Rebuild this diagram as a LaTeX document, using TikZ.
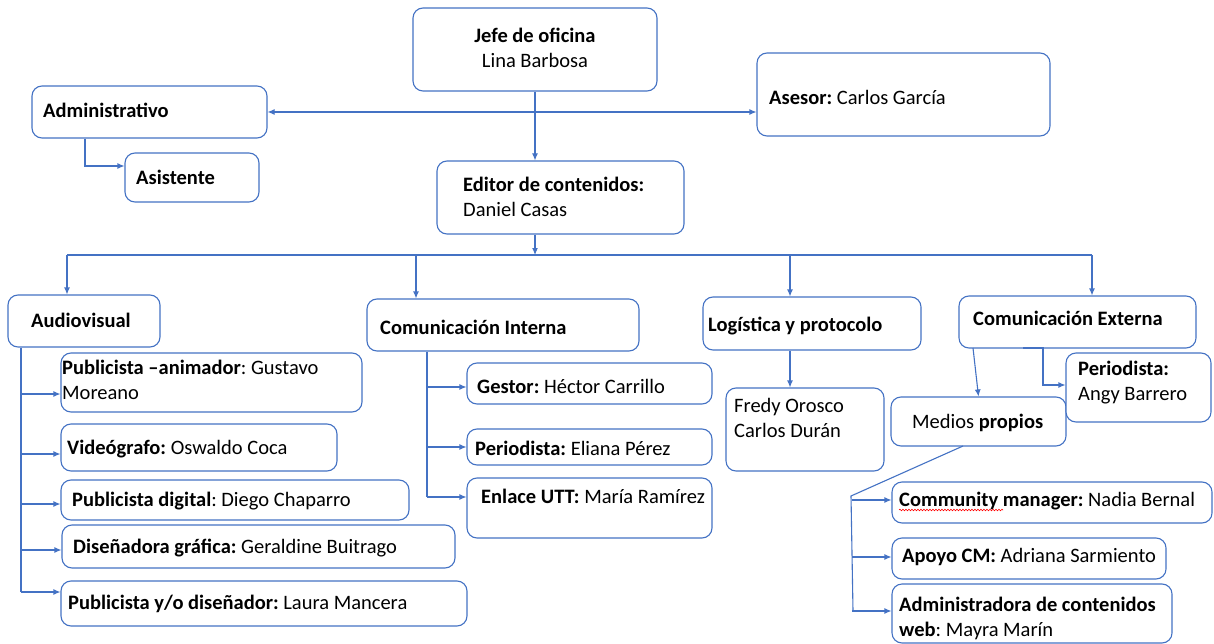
\documentclass[tikz,border=0pt]{standalone}
\usepackage{fontspec}
\setmainfont{Carlito}
\usetikzlibrary{arrows.meta,fit,decorations.pathmorphing}
\definecolor{ob}{HTML}{4472C4}
\begin{document}
\begin{tikzpicture}[x=1pt,y=-1pt,
 box/.style={draw=ob, line width=1.1pt, rounded corners=10pt, inner sep=0pt, fill=white},
 txt/.style={inner sep=0pt, anchor=base west, font=\fontsize{20.5}{25}\selectfont\frenchspacing, text=black, align=left},
 ln/.style={draw=ob, line width=1.1pt},
 arr/.style={ln, -{Latex[length=7pt,width=6pt]}},
]
\useasboundingbox[fill=white] (0,0) rectangle (1214,644);

% boxes
\node[box, fit={(413,8) (657,91)}] (jefe) {};
\node[box, fit={(437,161) (684,234)}] (editor) {};
\node[box, fit={(32,86) (267,138)}] (admin) {};
\node[box, fit={(125,153) (259,202)}] (asis) {};
\node[box, fit={(757,53) (1050,136)}] (asesor) {};
\node[box, fit={(8,295) (160,347)}] (audio) {};
\node[box, fit={(367,299) (639,351)}] (ci) {};
\node[box, fit={(703,297) (921,350)}] (log) {};
\node[box, fit={(959,296) (1196,348)}] (ce) {};
\node[box, fit={(61,353) (362,412)}] (pa) {};
\node[box, fit={(61,424) (337,471)}] (vid) {};
\node[box, fit={(61,480) (409,520)}] (pd) {};
\node[box, fit={(62,525) (455,568)}] (dg) {};
\node[box, fit={(61,581) (467,626)}] (pyd) {};
\node[box, fit={(467,363) (712,404)}] (gest) {};
\node[box, fit={(467,429) (712,465)}] (peri) {};
\node[box, fit={(467,478) (712,538)}] (enl) {};
\node[box, fit={(726,388) (884,471)}] (fredy) {};
\node[box, fit={(891,397) (1066,446)}] (mp) {};
\node[box, fit={(1066,353) (1211,422)}] (pang) {};
\node[box, fit={(892,482) (1212,523)}] (cm) {};
\node[box, fit={(892,538) (1166,579)}] (apoyo) {};
\node[box, fit={(892,584) (1172,643)}] (adm) {};

% texts
\node[txt, align=center, anchor=base] (jefe-t) at (535,68) {\textbf{Jefe de oficina}\\Lina Barbosa};
\node[txt] (editor-t) at (463,217) {\textbf{Editor de contenidos:}\\Daniel Casas};
\node[txt] (admin-t) at (43,118) {\textbf{Administrativo}};
\node[txt] (asis-t) at (136,185) {\textbf{Asistente}};
\node[txt] (asesor-t) at (769,105) {\textbf{Asesor:} Carlos García};
\node[txt] (audio-t) at (31,327) {\textbf{Audiovisual}};
\node[txt] (ci-t) at (380,334) {\textbf{Comunicación Interna}};
\node[txt] (log-t) at (708,331) {\textbf{Logística y protocolo}};
\node[txt] (ce-t) at (973,325) {\textbf{Comunicación Externa}};
\node[txt] (pa-t) at (62,399) {\textbf{Publicista –animador}: Gustavo\\Moreano};
\node[txt] (vid-t) at (67,454) {\textbf{Videógrafo:} Oswaldo Coca};
\node[txt] (pd-t) at (72,506) {\textbf{Publicista digital}: Diego Chaparro};
\node[txt] (dg-t) at (73,553) {\textbf{Diseñadora gráfica:} Geraldine Buitrago};
\node[txt] (pyd-t) at (68,609) {\textbf{Publicista y/o diseñador:} Laura Mancera};
\node[txt] (gest-t) at (477,393) {\textbf{Gestor:} Héctor Carrillo};
\node[txt] (peri-t) at (475,455) {\textbf{Periodista:} Eliana Pérez};
\node[txt] (enl-t) at (481,503) {\textbf{Enlace UTT:} María Ramírez};
\node[txt] (fredy-t) at (734,437) {Fredy Orosco\\Carlos Durán};
\node[txt] (mp-t) at (912,428) {Medios \textbf{propios}};
\node[txt] (pang-t) at (1078,400) {\textbf{Periodista:}\\Angy Barrero};
\node[txt] (cm-t) at (899,506) {\textbf{Community manager:} Nadia Bernal};
\node[txt] (apoyo-t) at (902,562) {\textbf{Apoyo CM:} Adriana Sarmiento};
\node[txt] (adm-t) at (899,636) {\textbf{Administradora de contenidos}\\\textbf{web}: Mayra Marín};
\draw[red, line width=0.6pt, decorate, decoration={snake, amplitude=0.8pt, segment length=3pt}] (899,510) -- (1003,510);

% top connectors
\coordinate (jx) at (535,0);
\draw[arr] (jefe.south -| jx) -- (editor.north -| jx);
\draw[ln, {Latex[length=7pt,width=6pt]}-{Latex[length=7pt,width=6pt]}] (admin.east) -- (admin.east -| asesor.west);
\coordinate (as1) at (85,166);
\draw[arr] (admin.south -| as1) -- (as1) -- (as1 -| asis.west);

% bus
\coordinate (busL) at (67,255);
\coordinate (busR) at (1092,255);
\coordinate (edb) at (535,255);
\draw[ln] (busL) -- (busR);
\draw[arr] (editor.south -| edb) -- (edb);
\coordinate (d2) at (416,255);
\coordinate (d3) at (790,255);
\draw[arr] (busL) -- (busL |- audio.north);
\draw[arr] (d2) -- (d2 |- ci.north);
\draw[arr] (d3) -- (d3 |- log.north);
\draw[arr] (busR) -- (busR |- ce.north);

% audiovisual
\coordinate (av) at (21,592);
\draw[ln] (av |- audio.south) -- (av);
\foreach \n/\yy in {pa/394, vid/454, pd/504, dg/550, pyd/592}{
  \coordinate (avc) at (21,\yy);
  \draw[arr] (avc) -- (avc -| \n.west);
}

% comunicacion interna
\coordinate (cit) at (427,497);
\draw[ln] (cit |- ci.south) -- (cit);
\foreach \n/\yy in {gest/387, peri/447, enl/497}{
  \coordinate (cic) at (427,\yy);
  \draw[arr] (cic) -- (cic -| \n.west);
}

% logistica
\coordinate (lx) at (790,0);
\draw[arr] (log.south -| lx) -- (fredy.north -| lx);

% comunicacion externa
\coordinate (ce3) at (973,348);
\draw[arr] (ce3) -- (mp.north);
\coordinate (ce1) at (1023,348);
\coordinate (ce2) at (1043,385);
\draw[arr] (ce1) -- (ce1 -| ce2) -- (ce2) -- (ce2 -| pang.west);

% medios propios
\coordinate (mpo) at (963,446);
\coordinate (mpk) at (851,496);
\coordinate (mpb) at (853,611);
\draw[ln] (mpo) -- (mpk) -- (mpb);
\foreach \n/\yy in {cm/500, apoyo/557, adm/611}{
  \coordinate (mpc) at (852,\yy);
  \draw[arr] (mpc) -- (mpc -| \n.west);
}
\end{tikzpicture}
\end{document}
